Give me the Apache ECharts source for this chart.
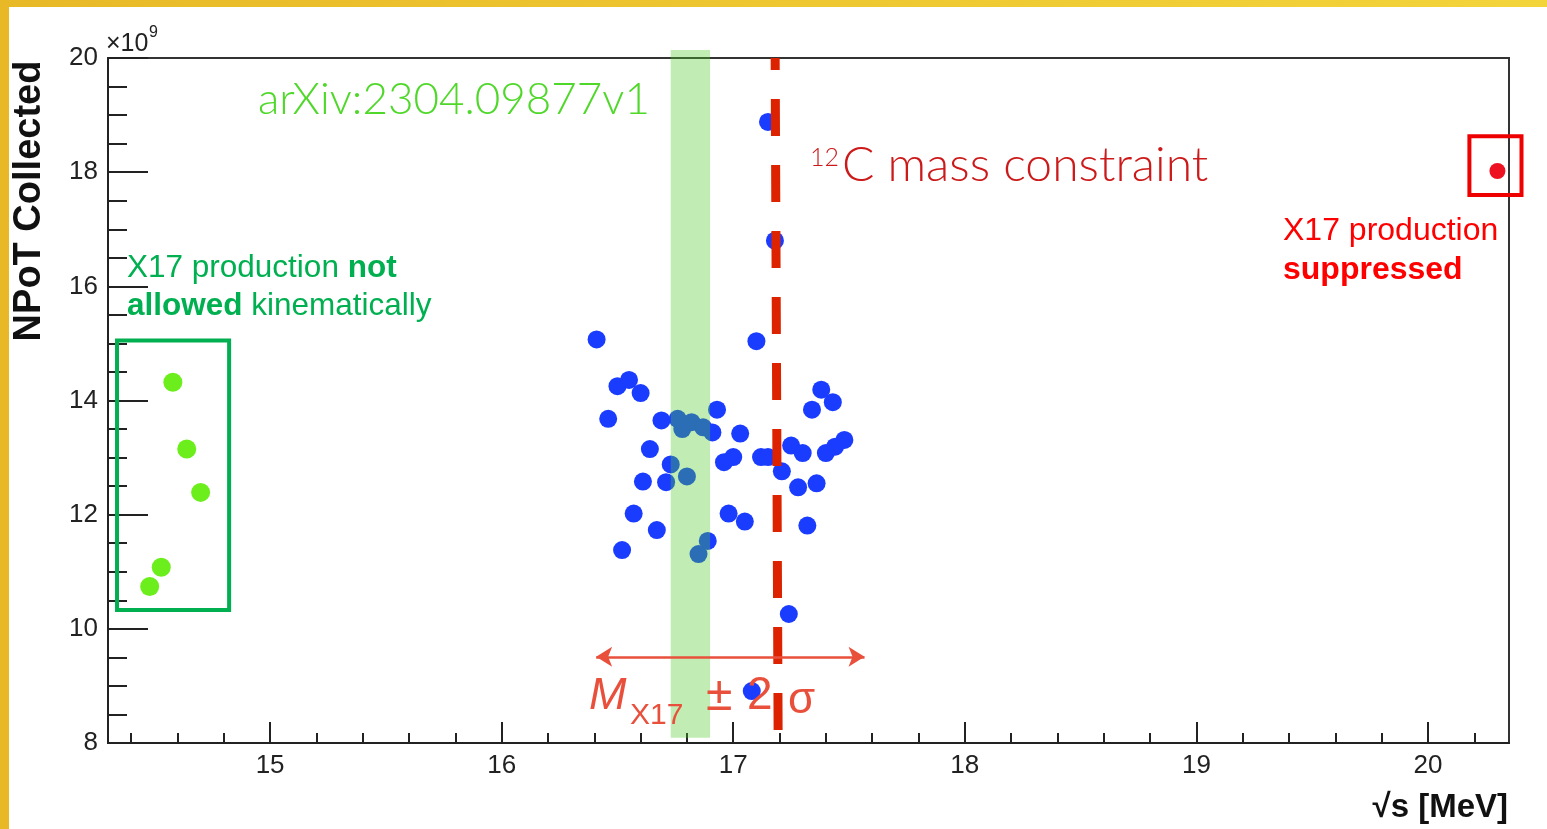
<!DOCTYPE html>
<html><head><meta charset="utf-8">
<script src="https://cdn.jsdelivr.net/npm/echarts@6/dist/echarts.min.js"></script>
<style>html,body{margin:0;padding:0;background:#fff}#c{width:1547px;height:829px}</style>
</head><body><div id="c"></div>
<script>
// ---- data ----
const xMajorTicks = [15, 16, 17, 18, 19, 20];
const xMinorTicks = [14.4, 14.6, 14.8, 15.2, 15.4, 15.6, 15.8, 16.2, 16.4, 16.6, 16.8, 17.2, 17.4, 17.6, 17.8, 18.2, 18.4, 18.6, 18.8, 19.2, 19.4, 19.6, 19.8, 20.2];
const yTicks = [8, 10, 12, 14, 16, 18, 20];

const blueX = [16.41, 17.10, 16.50, 16.55, 16.60, 16.46, 16.69, 16.76, 16.78, 16.82, 16.87, 16.91, 16.93, 17.03, 16.64, 16.73, 16.71, 16.61, 16.80, 16.96, 17.00, 17.12, 17.15, 17.21, 17.25, 17.30, 17.28, 17.36, 17.34, 17.38, 17.43, 17.40, 17.44, 17.48, 16.57, 16.67, 16.52, 16.98, 17.05, 17.32, 16.89, 16.85, 17.15, 17.18, 17.24, 17.08];
const blueY = [15.07, 15.04, 14.25, 14.36, 14.13, 13.68, 13.65, 13.68, 13.50, 13.62, 13.53, 13.44, 13.84, 13.42, 13.15, 12.88, 12.57, 12.58, 12.67, 12.92, 13.01, 13.01, 13.01, 12.76, 13.21, 13.08, 12.48, 12.55, 13.84, 14.19, 13.97, 13.08, 13.19, 13.31, 12.02, 11.73, 11.38, 12.02, 11.88, 11.81, 11.54, 11.31, 18.88, 16.80, 10.26, 8.91];

const greenX = [14.58, 14.64, 14.70, 14.53, 14.48];
const greenY = [14.32, 13.15, 12.39, 11.08, 10.74];

const redX = [20.30];
const redY = [18.02];

// annotation values (data units): [x0, y0, x1, y1]
const bandRect = [16.73, 8.09, 16.90, 20.14];
const greenBoxRect = [14.339, 15.05, 14.823, 10.33];
const redBoxRect = [20.179, 18.63, 20.404, 17.60];
const constraintLine = [[17.194, 8.0], [17.181, 20.0]];
const sigmaArrow = [[16.408, 9.51], [17.567, 9.51]];

const zip = (xs, ys) => xs.map((x, i) => [x, ys[i]]);

const FONT = 'Liberation Sans, Arial, sans-serif';
const THIN = 'Lato, "DejaVu Sans", sans-serif';
const axisColor = '#222';

const chart = echarts.init(document.getElementById('c'), null, {renderer: 'canvas'});

const txt = (x, y, text, opts) => ({
  type: 'text', x: x, y: y, z: 100, silent: true,
  style: Object.assign({text: text, fill: '#222', font: '26px ' + FONT, align: 'left', verticalAlign: 'middle', textAlign: 'left', textVerticalAlign: 'middle'}, opts || {})
});

const rectItem = (styleFn) => (params, api) => {
  const p0 = api.coord([api.value(0), api.value(1)]);
  const p1 = api.coord([api.value(2), api.value(3)]);
  return {
    type: 'rect',
    shape: {x: Math.min(p0[0], p1[0]), y: Math.min(p0[1], p1[1]), width: Math.abs(p1[0] - p0[0]), height: Math.abs(p1[1] - p0[1])},
    style: styleFn(params.dataIndex)
  };
};

const boxColors = ['#00b050', '#ee0000'];

const option = {
  backgroundColor: '#fff',
  animation: false,
  grid: {left: 108, right: 38, top: 58, bottom: 86, show: true, borderColor: '#333', borderWidth: 2, backgroundColor: 'transparent'},
  xAxis: [
    {
      type: 'value', min: 14.3, max: 20.35, position: 'bottom',
      axisLine: {show: true, onZero: false, lineStyle: {color: axisColor, width: 2}},
      axisTick: {show: true, inside: true, length: 21, customValues: xMajorTicks, lineStyle: {color: axisColor, width: 2}},
      axisLabel: {show: true, customValues: xMajorTicks, margin: 10, fontSize: 26, color: axisColor, fontFamily: FONT},
      splitLine: {show: false}
    },
    {
      type: 'value', min: 14.3, max: 20.35, position: 'bottom',
      axisLine: {show: false, onZero: false},
      axisTick: {show: true, inside: true, length: 10, customValues: xMinorTicks, lineStyle: {color: axisColor, width: 2}},
      axisLabel: {show: false},
      splitLine: {show: false}
    }
  ],
  yAxis: {
    type: 'value', min: yTicks[0], max: yTicks[yTicks.length - 1], interval: 2,
    axisLine: {show: true, onZero: false, lineStyle: {color: axisColor, width: 2}},
    axisTick: {show: true, inside: true, length: 40, lineStyle: {color: axisColor, width: 2}},
    minorTick: {show: true, splitNumber: 4, length: 19, lineStyle: {color: axisColor, width: 2}},
    axisLabel: {margin: 10, fontSize: 26, color: axisColor, fontFamily: FONT},
    splitLine: {show: false}, minorSplitLine: {show: false}
  },
  series: [
    {
      type: 'scatter', name: 'blue', z: 2, symbolSize: 18,
      itemStyle: {color: '#1a3cff', opacity: 1},
      data: zip(blueX, blueY)
    },
    {
      type: 'scatter', name: 'green', z: 2, symbolSize: 19,
      itemStyle: {color: '#6cee1c', opacity: 1},
      data: zip(greenX, greenY)
    },
    {
      type: 'scatter', name: 'red', z: 2, symbolSize: 16, clip: false,
      itemStyle: {color: '#ee1122', opacity: 1},
      data: zip(redX, redY)
    },
    {
      type: 'custom', name: 'band', z: 3, clip: false, silent: true,
      encode: {x: [0, 2], y: [1, 3]},
      renderItem: rectItem(() => ({fill: 'rgba(78,204,44,0.35)', stroke: null})),
      data: [bandRect]
    },
    {
      type: 'custom', name: 'boxes', z: 4, clip: false, silent: true,
      encode: {x: [0, 2], y: [1, 3]},
      renderItem: rectItem((i) => ({fill: 'none', stroke: boxColors[i], lineWidth: 4})),
      data: [greenBoxRect, redBoxRect]
    },
    {
      type: 'scatter', name: 'constraint', data: [], clip: false, silent: true,
      markLine: {
        z: 6, silent: true, symbol: ['none', 'none'], label: {show: false},
        lineStyle: {color: '#dd2200', width: 9, type: [37, 29], dashOffset: 53, cap: 'butt'},
        data: [[{coord: constraintLine[0]}, {coord: constraintLine[1]}]]
      }
    },
    {
      type: 'scatter', name: 'arrow', data: [], clip: false, silent: true,
      markLine: {
        z: 6, silent: true, symbol: ['arrow', 'arrow'], symbolSize: [15, 16], label: {show: false},
        lineStyle: {color: '#e9503c', width: 2.5, type: 'solid'},
        data: [[{coord: sigmaArrow[0]}, {coord: sigmaArrow[1]}]]
      }
    }
  ],
  graphic: [
    {type: 'rect', z: 200, silent: true, shape: {x: 0, y: 0, width: 1547, height: 7},
      style: {fill: new echarts.graphic.LinearGradient(0, 0, 1, 0, [{offset: 0, color: '#e8b927'}, {offset: 1, color: '#f3d43a'}])}},
    {type: 'rect', z: 200, silent: true, shape: {x: 0, y: 0, width: 9, height: 829}, style: {fill: '#e9b826'}},
    // axis titles
    {type: 'text', x: 30, y: 201, rotation: Math.PI / 2, z: 100, silent: true,
      style: {text: 'NPoT Collected', fill: '#111', font: 'bold 38px ' + FONT, align: 'center', verticalAlign: 'middle', textAlign: 'center', textVerticalAlign: 'middle'}},
    txt(1508, 808, '√s [MeV]', {font: 'bold 33px ' + FONT, fill: '#111', align: 'right', textAlign: 'right'}),
    txt(106, 44, '×10', {font: '25px ' + FONT}),
    txt(149, 33, '9', {font: '16px ' + FONT}),
    // annotations
    txt(258, 100, 'arXiv:2304.09877v1', {font: '300 44px ' + THIN, fill: '#4fd82a'}),
    txt(810, 158, '12', {font: '300 25px ' + THIN, fill: '#cc1a1a'}),
    txt(842, 166, 'C mass constraint', {font: '300 48px ' + THIN, fill: '#cc1a1a'}),
    {type: 'text', x: 127, y: 249, z: 100, silent: true,
      style: {text: '{n|X17 production }{b|not}\n{b|allowed}{n| kinematically}', verticalAlign: 'top', textVerticalAlign: 'top', align: 'left', textAlign: 'left',
        rich: {n: {fontSize: 31.5, fontFamily: FONT, fill: '#00b050', lineHeight: 38}, b: {fontSize: 31.5, fontFamily: FONT, fontWeight: 'bold', fill: '#00b050', lineHeight: 38}}}},
    {type: 'text', x: 1283, y: 212, z: 100, silent: true,
      style: {text: '{n|X17 production}\n{b|suppressed}', verticalAlign: 'top', textVerticalAlign: 'top', align: 'left', textAlign: 'left',
        rich: {n: {fontSize: 32, fontFamily: FONT, fill: '#ff0000', lineHeight: 39}, b: {fontSize: 32, fontFamily: FONT, fontWeight: 'bold', fill: '#ff0000', lineHeight: 39}}}},
    txt(589, 696, 'M', {font: 'italic 45px ' + FONT, fill: '#e9503c'}),
    txt(630, 716, 'X17', {font: '30px ' + FONT, fill: '#e9503c'}),
    txt(706, 697, '±', {font: '48px ' + FONT, fill: '#e9503c'}),
    txt(747, 696, '2', {font: '46px ' + FONT, fill: '#e9503c'}),
    txt(788, 701, 'σ', {font: '44px ' + FONT, fill: '#e9503c'})
  ]
};
chart.setOption(option);
</script>
</body></html>
